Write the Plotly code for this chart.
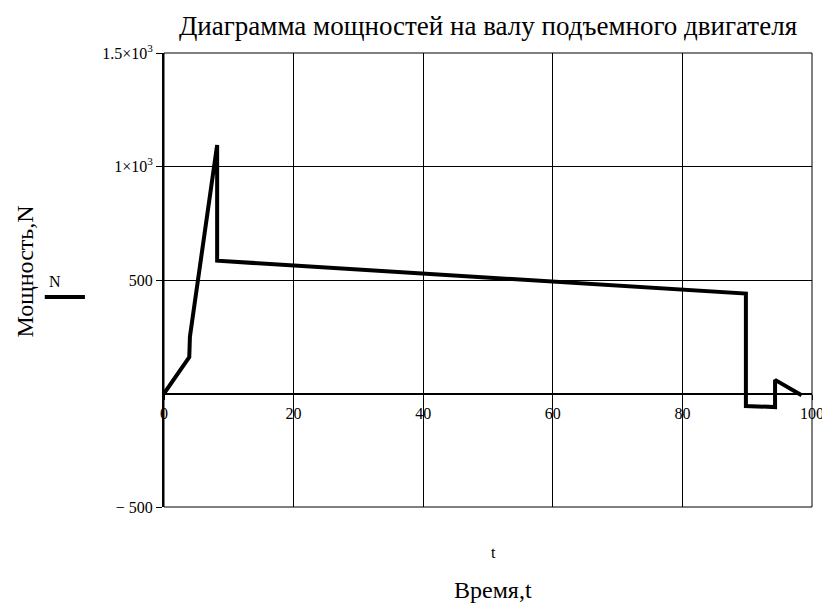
import plotly.graph_objects as go

# Data
t_vals = [0, 3.9, 4.0, 8.2, 8.2, 89.8, 89.8, 94.3, 94.3, 98.4]
n_vals = [0, 160, 250, 1095, 585, 440, -55, -60, 60, -8]

x_tickvals = [0, 20, 40, 60, 80, 100]
x_ticktext = ["0", "20", "40", "60", "80", "100"]
y_tickvals = [-500, 500, 1000, 1500]
y_ticktext = ["\u2212 500", "500", "1\u00d710<sup>3</sup>", "1.5\u00d710<sup>3</sup>"]

title_text = "Диаграмма мощностей на валу подъемного двигателя"
y_title = "Мощность,N"
x_label_small = "t"
x_title = "Время,t"
legend_name = "N"

FONT = "Liberation Serif, Times New Roman, serif"

W, H = 814, 595

fig = go.Figure()
fig.add_trace(go.Scatter(x=t_vals, y=n_vals, mode="lines",
                         line=dict(color="black", width=4), name=legend_name,
                         showlegend=False))

fig.update_layout(
    width=W, height=H,
    margin=dict(l=156, r=10, t=45, b=96, autoexpand=False),
    paper_bgcolor="white", plot_bgcolor="white",
    font=dict(family=FONT, size=16, color="black"),
    title=dict(text=title_text, x=(488 - 8) / W, xanchor="center",
               xref="container", y=1 - (26 - 8) / H, yanchor="middle", yref="container",
               font=dict(family=FONT, size=27, color="black")),
    xaxis=dict(range=[0, 100], tickvals=x_tickvals, ticktext=x_ticktext,
               showgrid=True, gridcolor="black", gridwidth=1,
               zeroline=False, showline=True, linecolor="black", linewidth=2,
               anchor="free", position=0.25, ticklabeloverflow="allow",
               ticks="outside", ticklen=5, tickcolor="black",
               tickfont=dict(family=FONT, size=16, color="black")),
    yaxis=dict(range=[-500, 1500], tickvals=y_tickvals, ticktext=y_ticktext,
               showgrid=True, gridcolor="black", gridwidth=1,
               zeroline=False, showline=True, linecolor="black", linewidth=2,
               ticks="outside", ticklen=6, tickcolor="black", ticklabeloverflow="allow",
               tickfont=dict(family=FONT, size=16, color="black")),
    shapes=[
        dict(type="rect", xref="x domain", yref="y domain", x0=0, x1=1, y0=0, y1=1,
             line=dict(color="black", width=1), fillcolor="rgba(0,0,0,0)", layer="below"),
        dict(type="line", xref="paper", yref="paper", x0=-0.184, x1=-0.122,
             y0=0.4626, y1=0.4626, line=dict(color="black", width=4)),
    ],
    annotations=[
        dict(text=y_title, xref="paper", yref="paper", x=-0.215, y=0.518,
             textangle=-90, showarrow=False, xanchor="center", yanchor="middle",
             font=dict(family=FONT, size=24, color="black")),
        dict(text=legend_name, xref="paper", yref="paper", x=-0.168, y=0.496,
             showarrow=False, xanchor="center", yanchor="middle",
             font=dict(family=FONT, size=16, color="black")),
        dict(text=x_label_small, xref="paper", yref="paper", x=0.508, y=-0.101,
             showarrow=False, xanchor="center", yanchor="middle",
             font=dict(family=FONT, size=16, color="black")),
        dict(text=x_title, xref="paper", yref="paper", x=0.508, y=-0.183,
             showarrow=False, xanchor="center", yanchor="middle",
             font=dict(family=FONT, size=24, color="black")),
    ],
)

fig.write_html("out.html")
